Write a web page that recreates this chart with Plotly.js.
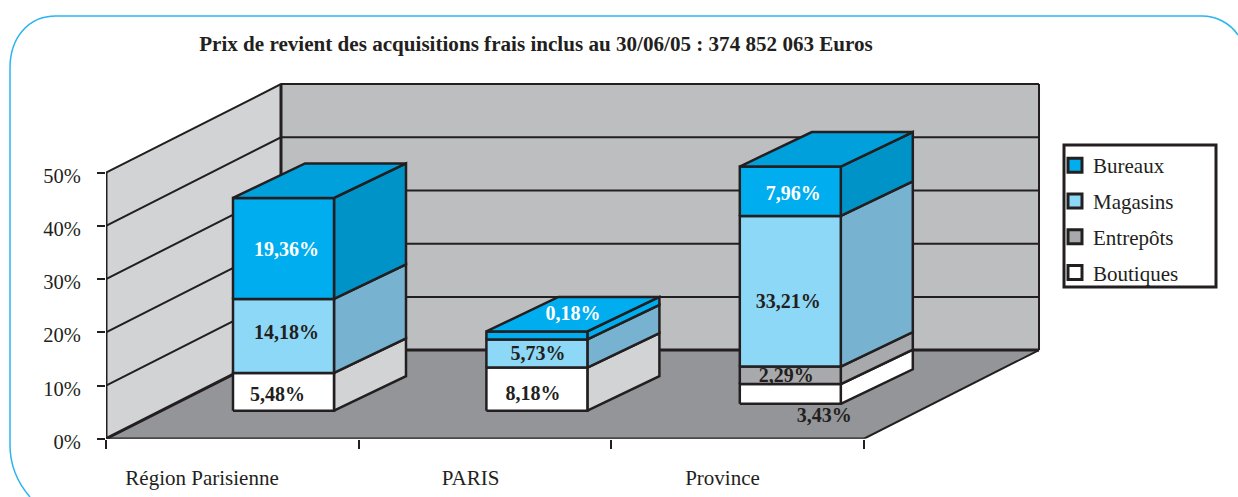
<!DOCTYPE html>
<html>
<head>
<meta charset="utf-8">
<script src="https://cdn.plot.ly/plotly-3.0.1.min.js"></script>
<style>html,body{margin:0;padding:0;background:#fff;overflow:hidden}#chart{width:1238px;height:497px}</style>
</head>
<body>
<div id="chart"></div>
<script>
// ---- data ----
const categories = ["Région Parisienne", "PARIS", "Province"];
const seriesNames = ["Boutiques", "Entrepôts", "Magasins", "Bureaux"];
// printed values (%)
const boutiques = [5.48, 8.18, 3.43];
const entrepots = [null, null, 2.29];
const magasins = [14.18, 5.73, 33.21];
const bureaux = [19.36, 0.18, 7.96];
// heights as actually drawn in the reference (% on the value axis)
const boutiquesDrawn = [7.1, 8.1, 3.7];
const entrepotsDrawn = [0, 0, 3.3];
const magasinsDrawn = [13.9, 5.3, 28.3];
const bureauxDrawn = [19.0, 1.5, 9.3];
const barLift = [0, 0, 1.3];
const yTicks = [0, 10, 20, 30, 40, 50];
const xTicks = [0, 1, 2, 3];
const title = "Prix de revient des acquisitions frais inclus au 30/06/05 : 374 852 063 Euros";

// ---- styling ----
const W = 1238, H = 497;
const ink = "#231f20";
const frontColors = ["#ffffff", "#a7a9ac", "#8dd7f7", "#00aeef"];
const sideColors = [["#d1d3d4", "#d1d3d4", "#ffffff"], ["#a7a9ac", "#a7a9ac", "#a7a9ac"], ["#77b3d1", "#77b3d1", "#77b3d1"], ["#0093c8", "#00aeef", "#0093c8"]];
const topColors = ["#00a0dc", "#00aeef", "#00a0dc"];
const textColors = [ink, ink, ink, "#ffffff"];
const pxX = 252.67, pxY = 5.32;           // pixels per axis unit
const wallDx = 175 / pxX, wallDy = 88.6 / pxY;
const barStart = 71 / pxX, barGap = 253.4 / pxX, barWidth = 101 / pxX;
const barFrontDx = 56 / pxX, barFrontDy = 28 / pxY;
const barBackDx = 128 / pxX, barBackDy = 62.5 / pxY;
const labelOffsetPx = [
  [[-6, -4], [-4, -5.5], [34, -23]],
  [null, null, [-4, -2]],
  [[3, 2], [1, -2], [-2, -12]],
  [[3, -3], [36, 20], [3, -4]]
];

const traces = [];
function poly(xs, ys, fill, lineWidth, lineColor) {
  traces.push({
    type: "scatter", mode: "lines", x: xs.concat(xs[0]), y: ys.concat(ys[0]),
    fill: "toself", fillcolor: fill, line: {color: lineColor || ink, width: lineWidth === undefined ? 2.5 : lineWidth},
    hoverinfo: "skip", showlegend: false, cliponaxis: false
  });
}
function line(xs, ys, w) {
  traces.push({
    type: "scatter", mode: "lines", x: xs, y: ys, line: {color: ink, width: w},
    hoverinfo: "skip", showlegend: false, cliponaxis: false
  });
}

// walls and floor
const xEnd = xTicks[xTicks.length - 1], yTop = yTicks[yTicks.length - 1];
poly([0, wallDx, wallDx, 0], [0, wallDy, wallDy + yTop, yTop], "#d1d3d4", 0, "rgba(0,0,0,0)");
poly([wallDx, xEnd + wallDx, xEnd + wallDx, wallDx], [wallDy, wallDy, wallDy + yTop, wallDy + yTop], "#bcbec0", 0, "rgba(0,0,0,0)");
poly([0, xEnd, xEnd + wallDx, wallDx], [0, 0, wallDy, wallDy], "#939598", 0, "rgba(0,0,0,0)");
yTicks.slice(1).forEach(v => line([0, wallDx, xEnd + wallDx], [v, v + wallDy, v + wallDy], 2));
line([0, wallDx, xEnd + wallDx], [0, wallDy, wallDy], 3);
line([wallDx, wallDx], [wallDy, wallDy + yTop], 3);
line([xEnd + wallDx, xEnd + wallDx], [wallDy, wallDy + yTop], 2);
line([xEnd, xEnd + wallDx], [0, wallDy], 2);
line([0, 0], [0, yTop], 3);
line([0, xEnd], [0, 0], 2.5);

// bars
const drawn = [boutiquesDrawn, entrepotsDrawn, magasinsDrawn, bureauxDrawn];
const printed = [boutiques, entrepots, magasins, bureaux];
const labelX = [], labelY = [], labelT = [], labelC = [];
categories.forEach((c, i) => {
  const x0 = barStart + i * barGap + barFrontDx, x1 = x0 + barWidth;
  const backX = barBackDx - barFrontDx, backY = barBackDy - barFrontDy;
  let y = barFrontDy + barLift[i];
  drawn.forEach((series, s) => {
    const h = series[i];
    if (!h) return;
    const y1 = y + h;
    poly([x1, x1 + backX, x1 + backX, x1], [y, y + backY, y1 + backY, y1], sideColors[s][i]);
    poly([x0, x1, x1, x0], [y, y, y1, y1], frontColors[s]);
    const off = labelOffsetPx[s][i];
    labelX.push((x0 + x1) / 2 + off[0] / pxX);
    labelY.push((y + y1) / 2 + off[1] / pxY);
    labelT.push(printed[s][i].toFixed(2).replace(".", ",") + "%");
    labelC.push(textColors[s]);
    y = y1;
  });
  poly([x0, x1, x1 + backX, x0 + backX], [y, y, y + backY, y + backY], topColors[i]);
});
traces.push({
  type: "scatter", mode: "text", x: labelX, y: labelY, text: labelT, textposition: "middle center",
  textfont: {family: "Liberation Serif", size: 20, color: labelC, weight: 700},
  hoverinfo: "skip", showlegend: false, cliponaxis: false
});

// legend entries
[3, 2, 1, 0].forEach(s => traces.push({
  type: "scatter", mode: "markers", x: [null], y: [null], name: seriesNames[s], legendgroup: seriesNames[s],
  marker: {symbol: "square", size: 14, color: frontColors[s], line: {color: ink, width: 3}},
  hoverinfo: "skip"
}));
// carries the bottom tick marks on the overlaying axis
traces.push({type: "scatter", mode: "markers", x: [null], y: [null], xaxis: "x2", showlegend: false, hoverinfo: "skip"});

const xRange = [0, 960 / pxX], yRange = [0, 358 / pxY];
const serif = "Liberation Serif";
const xDomain = [106 / W, (106 + 960) / W], yDomain = [(H - 438.7) / H, (H - 80.7) / H];
const categoryLabelX = [0.38, 1.443, 2.44];

function px(x, y) { return (x / W).toFixed(5) + "," + (1 - y / H).toFixed(5); }
const framePath = "M" + px(30, 497) + " C" + px(17, 482) + " " + px(10, 465) + " " + px(10, 445) +
  " L" + px(10, 68) + " C" + px(10, 38) + " " + px(28, 16) + " " + px(56, 16) +
  " L" + px(1202, 16) + " C" + px(1216, 16) + " " + px(1230, 23) + " " + px(1238, 35);
const legendBox = {type: "rect", xref: "paper", yref: "paper", x0: 1064 / W, x1: 1216 / W, y0: 1 - 287 / H, y1: 1 - 145 / H,
  fillcolor: "#ffffff", line: {color: ink, width: 3}, layer: "above"};

const layout = {
  width: W, height: H,
  margin: {l: 0, r: 0, t: 0, b: 0},
  paper_bgcolor: "#ffffff", plot_bgcolor: "rgba(0,0,0,0)",
  showlegend: true,
  font: {family: serif, color: ink, size: 20},
  title: {text: "<b>" + title + "</b>", font: {family: serif, size: 21.1, color: ink},
    x: 536 / W, xanchor: "center", xref: "paper", y: 1 - 44 / H, yanchor: "middle", yref: "paper"},
  xaxis: {domain: xDomain, range: xRange, tickmode: "array", tickvals: categoryLabelX, ticktext: categories,
    ticks: "", ticklabelstandoff: 24, showgrid: false, zeroline: false, showline: false,
    tickfont: {family: serif, size: 21, color: ink}, fixedrange: true},
  xaxis2: {domain: xDomain, range: xRange, overlaying: "x", anchor: "y", side: "bottom", tickmode: "array", tickvals: xTicks,
    ticktext: xTicks.map(() => ""), ticks: "outside", ticklen: 9, tickwidth: 2, tickcolor: ink,
    showgrid: false, zeroline: false, showline: false, fixedrange: true},
  yaxis: {domain: yDomain, range: yRange, tickmode: "array", tickvals: yTicks, ticktext: yTicks.map(v => v + "%"),
    ticks: "outside", ticklen: 8, tickwidth: 2, tickcolor: ink, ticklabelshift: 3, ticklabelstandoff: 12,
    showgrid: false, zeroline: false, showline: false,
    tickfont: {family: serif, size: 20.5, color: ink}, fixedrange: true},
  legend: {x: 1053 / W, y: 1 - 145 / H, xanchor: "left", yanchor: "top", bgcolor: "rgba(0,0,0,0)",
    borderwidth: 0, font: {family: serif, size: 21, color: ink},
    traceorder: "grouped", tracegroupgap: 5.5, itemwidth: 30, itemclick: false, itemdoubleclick: false},
  shapes: [
    {type: "path", xref: "paper", yref: "paper", path: framePath, line: {color: "#29b6f0", width: 1.5}, layer: "below"},
    legendBox
  ]
};
Plotly.newPlot("chart", traces, layout, {displayModeBar: false, staticPlot: true}).then(() => {
  // the legend's symbol column sits a few pixels right of the library default in the reference
  document.querySelectorAll(".legendsymbols").forEach(g => g.setAttribute("transform", "translate(2,0)"));
});
</script>
</body>
</html>
